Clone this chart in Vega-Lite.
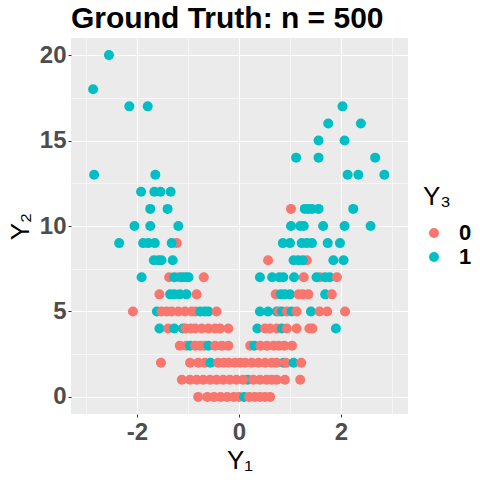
{
  "$schema": "https://vega.github.io/schema/vega-lite/v6.json",
  "width": 337,
  "height": 376,
  "autosize": {"type": "none"},
  "padding": {"left": 71, "top": 38, "right": 72, "bottom": 66},
  "background": "white",
  "title": {
    "text": "Ground Truth: n = 500",
    "anchor": "start",
    "frame": "group",
    "font": "Liberation Sans",
    "fontSize": 30,
    "fontWeight": "bold",
    "color": "black",
    "offset": 4
  },
  "config": {
    "view": {"fill": "#EBEBEB", "stroke": null},
    "font": "Liberation Sans"
  },
  "data": {
    "values": [
      {"Y1": -2.55, "Y2": 20, "Y3": "1"},
      {"Y1": -2.86, "Y2": 18, "Y3": "1"},
      {"Y1": -2.15, "Y2": 17, "Y3": "1"},
      {"Y1": -1.79, "Y2": 17, "Y3": "1"},
      {"Y1": 2.03, "Y2": 17, "Y3": "1"},
      {"Y1": 1.75, "Y2": 16, "Y3": "1"},
      {"Y1": 2.39, "Y2": 16, "Y3": "1"},
      {"Y1": 1.56, "Y2": 15, "Y3": "1"},
      {"Y1": 2.07, "Y2": 15, "Y3": "1"},
      {"Y1": 1.12, "Y2": 14, "Y3": "1"},
      {"Y1": 1.56, "Y2": 14, "Y3": "1"},
      {"Y1": 2.67, "Y2": 14, "Y3": "1"},
      {"Y1": -2.84, "Y2": 13, "Y3": "1"},
      {"Y1": -1.64, "Y2": 13, "Y3": "1"},
      {"Y1": 2.13, "Y2": 13, "Y3": "1"},
      {"Y1": 2.34, "Y2": 13, "Y3": "1"},
      {"Y1": 2.85, "Y2": 13, "Y3": "1"},
      {"Y1": -1.92, "Y2": 12, "Y3": "1"},
      {"Y1": -1.66, "Y2": 12, "Y3": "1"},
      {"Y1": -1.54, "Y2": 12, "Y3": "1"},
      {"Y1": -1.34, "Y2": 12, "Y3": "1"},
      {"Y1": -1.74, "Y2": 11, "Y3": "1"},
      {"Y1": -1.40, "Y2": 11, "Y3": "1"},
      {"Y1": 1.02, "Y2": 11, "Y3": "0"},
      {"Y1": 1.29, "Y2": 11, "Y3": "1"},
      {"Y1": 1.36, "Y2": 11, "Y3": "1"},
      {"Y1": 1.43, "Y2": 11, "Y3": "1"},
      {"Y1": 1.56, "Y2": 11, "Y3": "1"},
      {"Y1": 2.24, "Y2": 11, "Y3": "1"},
      {"Y1": -2.05, "Y2": 10, "Y3": "1"},
      {"Y1": -1.74, "Y2": 10, "Y3": "1"},
      {"Y1": -1.19, "Y2": 10, "Y3": "1"},
      {"Y1": 1.02, "Y2": 10, "Y3": "1"},
      {"Y1": 1.20, "Y2": 10, "Y3": "1"},
      {"Y1": 1.27, "Y2": 10, "Y3": "1"},
      {"Y1": 1.65, "Y2": 10, "Y3": "1"},
      {"Y1": 2.07, "Y2": 10, "Y3": "1"},
      {"Y1": 2.58, "Y2": 10, "Y3": "1"},
      {"Y1": -2.35, "Y2": 9, "Y3": "1"},
      {"Y1": -1.88, "Y2": 9, "Y3": "1"},
      {"Y1": -1.78, "Y2": 9, "Y3": "1"},
      {"Y1": -1.65, "Y2": 9, "Y3": "1"},
      {"Y1": -1.22, "Y2": 9, "Y3": "0"},
      {"Y1": -1.32, "Y2": 9, "Y3": "1"},
      {"Y1": 0.86, "Y2": 9, "Y3": "1"},
      {"Y1": 1.00, "Y2": 9, "Y3": "1"},
      {"Y1": 1.23, "Y2": 9, "Y3": "1"},
      {"Y1": 1.33, "Y2": 9, "Y3": "1"},
      {"Y1": 1.43, "Y2": 9, "Y3": "1"},
      {"Y1": 1.74, "Y2": 9, "Y3": "1"},
      {"Y1": 1.98, "Y2": 9, "Y3": "1"},
      {"Y1": -1.67, "Y2": 8, "Y3": "1"},
      {"Y1": -1.58, "Y2": 8, "Y3": "1"},
      {"Y1": -1.52, "Y2": 8, "Y3": "1"},
      {"Y1": -1.30, "Y2": 8, "Y3": "1"},
      {"Y1": 0.57, "Y2": 8, "Y3": "0"},
      {"Y1": 1.33, "Y2": 8, "Y3": "0"},
      {"Y1": 1.07, "Y2": 8, "Y3": "1"},
      {"Y1": 1.16, "Y2": 8, "Y3": "1"},
      {"Y1": 1.25, "Y2": 8, "Y3": "1"},
      {"Y1": 1.85, "Y2": 8, "Y3": "1"},
      {"Y1": 2.05, "Y2": 8, "Y3": "1"},
      {"Y1": -1.91, "Y2": 7, "Y3": "1"},
      {"Y1": -1.37, "Y2": 7, "Y3": "0"},
      {"Y1": -1.18, "Y2": 7, "Y3": "0"},
      {"Y1": -1.27, "Y2": 7, "Y3": "1"},
      {"Y1": -1.12, "Y2": 7, "Y3": "1"},
      {"Y1": -1.05, "Y2": 7, "Y3": "1"},
      {"Y1": -0.99, "Y2": 7, "Y3": "1"},
      {"Y1": -0.69, "Y2": 7, "Y3": "0"},
      {"Y1": 0.41, "Y2": 7, "Y3": "1"},
      {"Y1": 0.65, "Y2": 7, "Y3": "1"},
      {"Y1": 0.79, "Y2": 7, "Y3": "1"},
      {"Y1": 0.87, "Y2": 7, "Y3": "1"},
      {"Y1": 1.08, "Y2": 7, "Y3": "1"},
      {"Y1": 1.27, "Y2": 7, "Y3": "0"},
      {"Y1": 1.59, "Y2": 7, "Y3": "0"},
      {"Y1": 1.52, "Y2": 7, "Y3": "1"},
      {"Y1": 1.69, "Y2": 7, "Y3": "1"},
      {"Y1": 1.78, "Y2": 7, "Y3": "1"},
      {"Y1": 1.92, "Y2": 7, "Y3": "0"},
      {"Y1": -1.56, "Y2": 6, "Y3": "0"},
      {"Y1": -1.35, "Y2": 6, "Y3": "1"},
      {"Y1": -1.27, "Y2": 6, "Y3": "1"},
      {"Y1": -1.16, "Y2": 6, "Y3": "1"},
      {"Y1": -1.03, "Y2": 6, "Y3": "1"},
      {"Y1": -0.83, "Y2": 6, "Y3": "0"},
      {"Y1": 0.72, "Y2": 6, "Y3": "0"},
      {"Y1": 0.82, "Y2": 6, "Y3": "1"},
      {"Y1": 0.90, "Y2": 6, "Y3": "1"},
      {"Y1": 1.00, "Y2": 6, "Y3": "1"},
      {"Y1": 1.17, "Y2": 6, "Y3": "0"},
      {"Y1": 1.25, "Y2": 6, "Y3": "0"},
      {"Y1": 1.36, "Y2": 6, "Y3": "0"},
      {"Y1": 1.69, "Y2": 6, "Y3": "1"},
      {"Y1": 1.82, "Y2": 6, "Y3": "0"},
      {"Y1": -2.08, "Y2": 5, "Y3": "0"},
      {"Y1": -1.61, "Y2": 5, "Y3": "1"},
      {"Y1": -1.52, "Y2": 5, "Y3": "0"},
      {"Y1": -1.42, "Y2": 5, "Y3": "0"},
      {"Y1": -1.32, "Y2": 5, "Y3": "0"},
      {"Y1": -1.19, "Y2": 5, "Y3": "0"},
      {"Y1": -1.06, "Y2": 5, "Y3": "0"},
      {"Y1": -0.93, "Y2": 5, "Y3": "0"},
      {"Y1": -0.85, "Y2": 5, "Y3": "0"},
      {"Y1": -0.76, "Y2": 5, "Y3": "1"},
      {"Y1": -0.67, "Y2": 5, "Y3": "1"},
      {"Y1": -0.60, "Y2": 5, "Y3": "1"},
      {"Y1": -0.44, "Y2": 5, "Y3": "0"},
      {"Y1": 0.41, "Y2": 5, "Y3": "1"},
      {"Y1": 0.57, "Y2": 5, "Y3": "1"},
      {"Y1": 0.74, "Y2": 5, "Y3": "1"},
      {"Y1": 0.78, "Y2": 5, "Y3": "0"},
      {"Y1": 0.84, "Y2": 5, "Y3": "1"},
      {"Y1": 0.94, "Y2": 5, "Y3": "0"},
      {"Y1": 1.03, "Y2": 5, "Y3": "1"},
      {"Y1": 1.13, "Y2": 5, "Y3": "0"},
      {"Y1": 1.41, "Y2": 5, "Y3": "1"},
      {"Y1": 1.58, "Y2": 5, "Y3": "0"},
      {"Y1": 1.73, "Y2": 5, "Y3": "0"},
      {"Y1": 2.08, "Y2": 5, "Y3": "0"},
      {"Y1": -1.56, "Y2": 4, "Y3": "1"},
      {"Y1": -1.39, "Y2": 4, "Y3": "0"},
      {"Y1": -1.27, "Y2": 4, "Y3": "1"},
      {"Y1": -1.10, "Y2": 4, "Y3": "1"},
      {"Y1": -1.05, "Y2": 4, "Y3": "0"},
      {"Y1": -0.95, "Y2": 4, "Y3": "0"},
      {"Y1": -0.86, "Y2": 4, "Y3": "0"},
      {"Y1": -0.73, "Y2": 4, "Y3": "0"},
      {"Y1": -0.60, "Y2": 4, "Y3": "0"},
      {"Y1": -0.47, "Y2": 4, "Y3": "0"},
      {"Y1": -0.37, "Y2": 4, "Y3": "0"},
      {"Y1": -0.21, "Y2": 4, "Y3": "0"},
      {"Y1": 0.36, "Y2": 4, "Y3": "1"},
      {"Y1": 0.51, "Y2": 4, "Y3": "0"},
      {"Y1": 0.61, "Y2": 4, "Y3": "0"},
      {"Y1": 0.74, "Y2": 4, "Y3": "0"},
      {"Y1": 0.84, "Y2": 4, "Y3": "1"},
      {"Y1": 0.94, "Y2": 4, "Y3": "0"},
      {"Y1": 1.13, "Y2": 4, "Y3": "0"},
      {"Y1": 1.38, "Y2": 4, "Y3": "0"},
      {"Y1": 1.44, "Y2": 4, "Y3": "0"},
      {"Y1": 1.90, "Y2": 4, "Y3": "1"},
      {"Y1": -1.16, "Y2": 3, "Y3": "0"},
      {"Y1": -1.03, "Y2": 3, "Y3": "0"},
      {"Y1": -0.96, "Y2": 3, "Y3": "1"},
      {"Y1": -0.86, "Y2": 3, "Y3": "0"},
      {"Y1": -0.76, "Y2": 3, "Y3": "0"},
      {"Y1": -0.68, "Y2": 3, "Y3": "0"},
      {"Y1": -0.60, "Y2": 3, "Y3": "1"},
      {"Y1": -0.47, "Y2": 3, "Y3": "0"},
      {"Y1": -0.34, "Y2": 3, "Y3": "0"},
      {"Y1": -0.21, "Y2": 3, "Y3": "0"},
      {"Y1": 0.22, "Y2": 3, "Y3": "0"},
      {"Y1": 0.30, "Y2": 3, "Y3": "1"},
      {"Y1": 0.42, "Y2": 3, "Y3": "0"},
      {"Y1": 0.55, "Y2": 3, "Y3": "0"},
      {"Y1": 0.68, "Y2": 3, "Y3": "0"},
      {"Y1": 0.78, "Y2": 3, "Y3": "0"},
      {"Y1": 0.89, "Y2": 3, "Y3": "0"},
      {"Y1": 1.04, "Y2": 3, "Y3": "0"},
      {"Y1": -1.53, "Y2": 2, "Y3": "0"},
      {"Y1": -0.96, "Y2": 2, "Y3": "0"},
      {"Y1": -0.80, "Y2": 2, "Y3": "0"},
      {"Y1": -0.67, "Y2": 2, "Y3": "0"},
      {"Y1": -0.56, "Y2": 2, "Y3": "1"},
      {"Y1": -0.41, "Y2": 2, "Y3": "0"},
      {"Y1": -0.30, "Y2": 2, "Y3": "0"},
      {"Y1": -0.20, "Y2": 2, "Y3": "0"},
      {"Y1": -0.08, "Y2": 2, "Y3": "0"},
      {"Y1": 0.02, "Y2": 2, "Y3": "0"},
      {"Y1": 0.12, "Y2": 2, "Y3": "0"},
      {"Y1": 0.25, "Y2": 2, "Y3": "0"},
      {"Y1": 0.38, "Y2": 2, "Y3": "0"},
      {"Y1": 0.51, "Y2": 2, "Y3": "0"},
      {"Y1": 0.64, "Y2": 2, "Y3": "0"},
      {"Y1": 0.87, "Y2": 2, "Y3": "1"},
      {"Y1": 0.74, "Y2": 2, "Y3": "0"},
      {"Y1": 0.92, "Y2": 2, "Y3": "0"},
      {"Y1": 1.07, "Y2": 2, "Y3": "1"},
      {"Y1": 1.22, "Y2": 2, "Y3": "0"},
      {"Y1": -1.12, "Y2": 1, "Y3": "0"},
      {"Y1": -0.96, "Y2": 1, "Y3": "0"},
      {"Y1": -0.83, "Y2": 1, "Y3": "0"},
      {"Y1": -0.70, "Y2": 1, "Y3": "0"},
      {"Y1": -0.57, "Y2": 1, "Y3": "0"},
      {"Y1": -0.44, "Y2": 1, "Y3": "0"},
      {"Y1": -0.31, "Y2": 1, "Y3": "0"},
      {"Y1": -0.18, "Y2": 1, "Y3": "0"},
      {"Y1": -0.05, "Y2": 1, "Y3": "0"},
      {"Y1": 0.17, "Y2": 1, "Y3": "1"},
      {"Y1": 0.08, "Y2": 1, "Y3": "0"},
      {"Y1": 0.28, "Y2": 1, "Y3": "0"},
      {"Y1": 0.41, "Y2": 1, "Y3": "0"},
      {"Y1": 0.54, "Y2": 1, "Y3": "0"},
      {"Y1": 0.64, "Y2": 1, "Y3": "0"},
      {"Y1": 0.74, "Y2": 1, "Y3": "0"},
      {"Y1": 0.90, "Y2": 1, "Y3": "0"},
      {"Y1": 1.20, "Y2": 1, "Y3": "0"},
      {"Y1": -0.80, "Y2": 0, "Y3": "0"},
      {"Y1": -0.62, "Y2": 0, "Y3": "0"},
      {"Y1": -0.49, "Y2": 0, "Y3": "0"},
      {"Y1": -0.36, "Y2": 0, "Y3": "0"},
      {"Y1": -0.23, "Y2": 0, "Y3": "0"},
      {"Y1": -0.10, "Y2": 0, "Y3": "0"},
      {"Y1": 0.00, "Y2": 0, "Y3": "0"},
      {"Y1": 0.10, "Y2": 0, "Y3": "1"},
      {"Y1": 0.20, "Y2": 0, "Y3": "0"},
      {"Y1": 0.31, "Y2": 0, "Y3": "0"},
      {"Y1": 0.41, "Y2": 0, "Y3": "0"},
      {"Y1": 0.51, "Y2": 0, "Y3": "0"},
      {"Y1": 0.61, "Y2": 0, "Y3": "0"}
    ]
  },
  "mark": {"type": "circle", "size": 100, "opacity": 1},
  "encoding": {
    "x": {
      "field": "Y1",
      "type": "quantitative",
      "scale": {"domain": [-3.294, 3.314], "nice": false, "zero": false},
      "axis": {
        "title": "Y₁",
        "values": [-3, -2, -1, 0, 1, 2, 3],
        "labelExpr": "datum.value % 2 === 0 ? replace(datum.label, '−', '-') : ''",
        "labelFont": "Liberation Sans",
        "labelFontSize": 24,
        "labelFontWeight": "bold",
        "labelColor": "#4D4D4D",
        "labelPadding": 3,
        "titleFont": "Liberation Sans",
        "titleFontSize": 26,
        "titleFontWeight": "normal",
        "titleColor": "black",
        "titlePadding": 3,
        "domain": false,
        "ticks": true,
        "tickSize": 3,
        "tickColor": "#333333",
        "tickWidth": 1,
        "tickOpacity": {"condition": {"test": "datum.value % 2 !== 0", "value": 0}, "value": 1},
        "grid": true,
        "gridColor": "white",
        "gridWidth": {"condition": {"test": "datum.value % 2 !== 0", "value": 0.55}, "value": 1.1}
      }
    },
    "y": {
      "field": "Y2",
      "type": "quantitative",
      "scale": {"domain": [-1, 21], "nice": false, "zero": false},
      "axis": {
        "title": "Y₂",
        "values": [0, 2.5, 5, 7.5, 10, 12.5, 15, 17.5, 20],
        "labelExpr": "datum.value % 5 === 0 ? datum.label : ''",
        "labelFont": "Liberation Sans",
        "labelFontSize": 24,
        "labelFontWeight": "bold",
        "labelColor": "#4D4D4D",
        "labelPadding": 2,
        "titleFont": "Liberation Sans",
        "titleFontSize": 26,
        "titleFontWeight": "normal",
        "titleColor": "black",
        "titlePadding": 6,
        "domain": false,
        "ticks": true,
        "tickSize": 3,
        "tickColor": "#333333",
        "tickWidth": 1,
        "tickOpacity": {"condition": {"test": "datum.value % 5 !== 0", "value": 0}, "value": 1},
        "grid": true,
        "gridColor": "white",
        "gridWidth": {"condition": {"test": "datum.value % 5 !== 0", "value": 0.55}, "value": 1.1}
      }
    },
    "color": {
      "field": "Y3",
      "type": "nominal",
      "scale": {"domain": ["0", "1"], "range": ["#F8766D", "#00BFC4"]},
      "legend": {
        "title": "Y₃",
        "orient": "none",
        "legendX": 352,
        "legendY": 146,
        "titleFont": "Liberation Sans",
        "titleFontSize": 26,
        "titleFontWeight": "normal",
        "titleColor": "black",
        "titlePadding": 12,
        "labelFont": "Liberation Sans",
        "labelFontSize": 22,
        "labelFontWeight": "bold",
        "labelColor": "black",
        "labelOffset": 14,
        "symbolType": "circle",
        "symbolSize": 100,
        "symbolStrokeWidth": 0,
        "symbolOpacity": 1,
        "rowPadding": 2,
        "padding": 0,
        "offset": 0
      }
    }
  }
}
